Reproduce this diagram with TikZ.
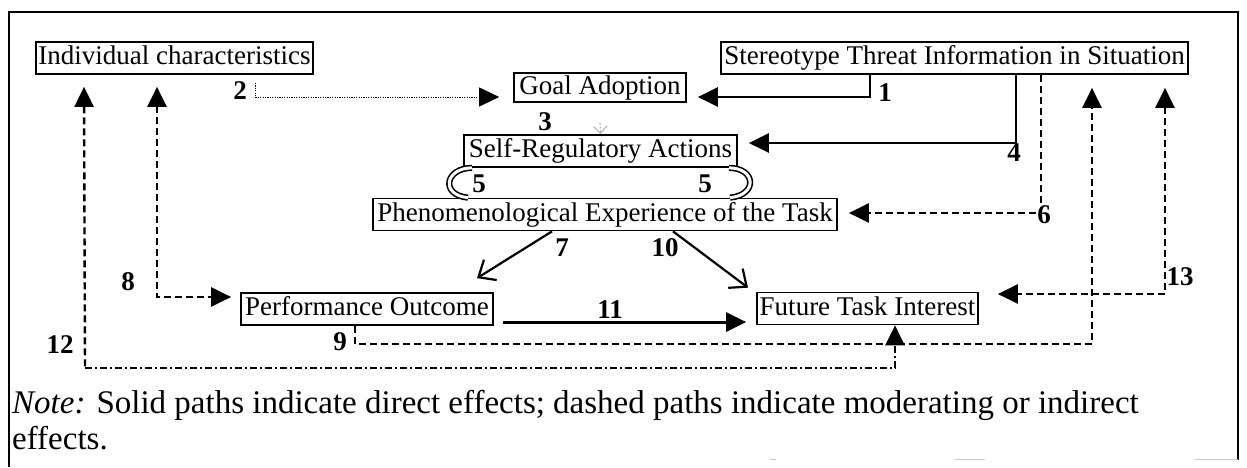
\documentclass[tikz,border=0pt]{standalone}
\usepackage{fontspec}
\setmainfont{Liberation Serif}
\usetikzlibrary{arrows.meta}
\begin{document}
\begin{tikzpicture}[x=1pt,y=-1pt,
  >={Triangle[length=20pt,width=19pt]},
  box/.style={draw, line width=1.7pt, font=\fontsize{27}{30}\selectfont, inner xsep=2pt, inner ysep=3.5pt, text height=19pt, text depth=6pt},
  num/.style={font=\fontsize{27}{27}\selectfont\bfseries, inner sep=0pt},
  solidarr/.style={line width=2.8pt, ->},
  dasharr/.style={line width=2.4pt, dash pattern=on 7pt off 4pt},
  dashdotarr/.style={line width=2.4pt, dash pattern=on 7pt off 3pt on 2pt off 3pt},
  dotarr/.style={line width=1pt, dash pattern=on 1.2pt off 1.2pt, ->},
  varr/.style={line width=2.2pt, -{Straight Barb[length=14pt,width=24pt,line width=2.2pt]}},
  looparr/.style={double, double distance=3pt, line width=1.6pt},
  notefont/.style={font=\fontsize{33}{35}\selectfont, inner sep=0pt, anchor=west}
]
\useasboundingbox (0,0) rectangle (1247,467);
% frame
\draw[line width=2.2pt] (9,467) -- (9,12) -- (1238,12) -- (1238,460);
\draw[gray!45, line width=1pt] (1195,459) -- (1238,459);
\draw[gray!45, line width=1pt] (955,459) -- (985,459);
\draw[gray!45, line width=1pt] (770,459) -- (776,459);

% boxes
\node[box, minimum width=277pt] (ind) at (174.5,58) {Individual characteristics};
\node[box, minimum width=467pt] (ster) at (954.5,58) {Stereotype Threat Information in Situation};
\node[box, minimum width=172pt, inner ysep=2pt] (goal) at (600,87.5) {Goal Adoption};
\node[box, minimum width=273pt] (self) at (600.5,151) {Self-Regulatory Actions};
\node[box, minimum width=464pt] (phen) at (605,214.5) {Phenomenological Experience of the Task};
\node[box, minimum width=252pt] (perf) at (367,309) {Performance Outcome};
\node[box, minimum width=221pt] (fut) at (867.5,308.5) {Future Task Interest};

% 1
\draw[solidarr] ([xshift=-84.5pt]ster.south) |- ([xshift=11pt,yshift=-9.5pt]goal.east);
% 2
\coordinate (c2) at (255,83);
\draw[dotarr] (c2) |- ([xshift=-14pt,yshift=-9.5pt]goal.west);
% 3
\draw[gray!60, line width=1.1pt, dash pattern=on 2pt off 1.5pt, -{Straight Barb[length=7pt,width=13pt]}] ([yshift=-20pt]goal.south) -- (self.north);
% 4
\draw[solidarr] ([xshift=61.5pt]ster.south) |- ([xshift=11pt,yshift=8pt]self.east);
% 5
\draw[looparr] ([xshift=-128.5pt]self.south) .. controls (445,168) and (440,195) .. ([xshift=-137pt]phen.north);
\draw[looparr] ([xshift=128.5pt]self.south) .. controls (756,168) and (758,195) .. ([xshift=125pt]phen.north);
% 6
\draw[dasharr, ->] ([xshift=86.5pt]ster.south) |- ([xshift=11pt,yshift=1.5pt]phen.east);
% 7, 10
\draw[varr] ([xshift=-53pt]phen.south) -- ([xshift=110pt,yshift=14pt]perf.north);
\draw[varr] ([xshift=68pt]phen.south) -- ([xshift=-119.5pt,yshift=4pt]fut.north);
% 11
\draw[solidarr, line width=3pt] ([xshift=9pt,yshift=-13pt]perf.east) -- ([xshift=-10pt,yshift=-13.5pt]fut.west);
% 8
\draw[dasharr, <->] ([xshift=-17.5pt,yshift=-12pt]ind.south) |- ([xshift=-9pt,yshift=12pt]perf.west);
% 12
\coordinate (c12) at (85,368);
\draw[dasharr, <-] ([xshift=-90.5pt,yshift=-12pt]ind.south) -- (c12);
\draw[dashdotarr, ->] (c12) -| ([xshift=27.5pt]fut.south);
% 9
\draw[dasharr, ->] ([xshift=-12pt]perf.south) -- ++(0,18) -| ([xshift=137.5pt,yshift=-13pt]ster.south);
% 13
\draw[dasharr, <->] ([xshift=210.5pt,yshift=-13pt]ster.south) |- ([xshift=19pt,yshift=14.5pt]fut.east);

% labels
\node[num] (l1) at (885,93) {1};
\node[num] (l2) at (240,91) {2};
\node[num] (l3) at (545,122) {3};
\node[num] (l4) at (1014,153) {4};
\node[num] (l5a) at (479,184) {5};
\node[num] (l5b) at (705,184) {5};
\node[num] (l6) at (1044,215) {6};
\node[num] (l7) at (562,248) {7};
\node[num] (l8) at (128,282) {8};
\node[num] (l9) at (340,342) {9};
\node[num] (l10) at (665,248) {10};
\node[num] (l11) at (610,310) {11};
\node[num] (l12) at (60,345) {12};
\node[num] (l13) at (1180,277) {13};

% note
\node[notefont] (note1) at (12,405) {\textit{Note:} Solid paths indicate direct effects; dashed paths indicate moderating or indirect};
\node[notefont] (note2) at (12,438) {effects.};
\end{tikzpicture}
\end{document}
